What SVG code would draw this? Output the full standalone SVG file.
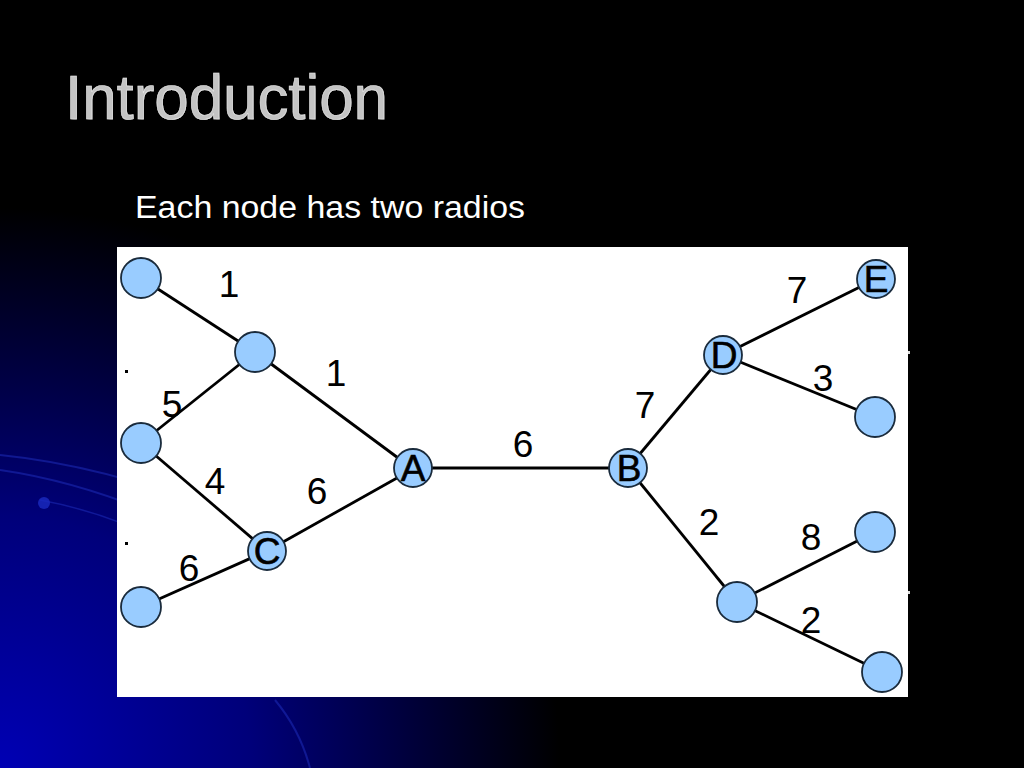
<svg xmlns="http://www.w3.org/2000/svg" width="1024" height="768" viewBox="0 0 1024 768">
<defs>
<radialGradient id="bg" cx="0" cy="768" r="560" gradientUnits="userSpaceOnUse">
<stop offset="0" stop-color="#0000b4"/>
<stop offset="0.45" stop-color="#00007a"/>
<stop offset="1" stop-color="#000000"/>
</radialGradient>
<filter id="sh" x="-5%" y="-20%" width="110%" height="140%">
<feDropShadow dx="2" dy="2" stdDeviation="1" flood-color="#000" flood-opacity="0.9"/>
</filter>
<style>
.edge{stroke:#000;stroke-width:2.8;fill:none}
.node{fill:#99ccff;stroke:#1a2b3c;stroke-width:1.8}
.nl{font-family:"Liberation Sans",Arial,sans-serif;font-size:37px;fill:#000;stroke:#000;stroke-width:0.6;text-anchor:middle}
.wl{font-family:"Liberation Sans",Arial,sans-serif;font-size:37px;fill:#000;text-anchor:middle}
.swoosh{fill:none;stroke:#2030c0;stroke-opacity:0.5}
</style>
</defs>
<rect width="1024" height="768" fill="#000"/>
<rect width="1024" height="768" fill="url(#bg)"/>
<g id="swooshes">
<path class="swoosh" stroke-width="2" d="M0 455 Q150 470 330 560"/>
<path class="swoosh" stroke-width="2" d="M0 470 Q140 490 300 590"/>
<path class="swoosh" stroke-width="1.5" d="M40 500 Q150 520 260 600"/>
<circle cx="44" cy="503" r="6" fill="#1a2ac0" opacity="0.8"/>
<path class="swoosh" stroke-width="2" d="M275 700 Q300 730 310 768"/>
</g>
<text x="65" y="119" font-family="Liberation Sans,Arial,sans-serif" font-size="63" textLength="323" lengthAdjust="spacingAndGlyphs" fill="#c4c4c4" stroke="#ececec" stroke-width="0.6" filter="url(#sh)">Introduction</text>
<text x="135" y="218" font-family="Liberation Sans,Arial,sans-serif" font-size="31" textLength="390" lengthAdjust="spacingAndGlyphs" fill="#ffffff">Each node has two radios</text>
<rect x="117" y="247" width="791" height="450" fill="#ffffff"/>
<g id="dots">
<rect x="125" y="370" width="3" height="3" fill="#000"/>
<rect x="125" y="542" width="3" height="3" fill="#000"/>
<rect x="908" y="351" width="2" height="3" fill="#ddd"/>
<rect x="908" y="591" width="2" height="3" fill="#ddd"/>
</g>
<g id="connectors">
<line class="edge" x1="141" y1="278" x2="255" y2="352"/>
<line class="edge" x1="255" y1="352" x2="413" y2="469"/>
<line class="edge" x1="255" y1="352" x2="141" y2="443"/>
<line class="edge" x1="141" y1="443" x2="267" y2="551"/>
<line class="edge" x1="141" y1="607" x2="267" y2="551"/>
<line class="edge" x1="267" y1="551" x2="413" y2="469"/>
<line class="edge" x1="413" y1="468" x2="628" y2="468"/>
<line class="edge" x1="628" y1="468" x2="723" y2="355"/>
<line class="edge" x1="723" y1="355" x2="876" y2="279"/>
<line class="edge" x1="723" y1="355" x2="875" y2="417"/>
<line class="edge" x1="628" y1="468" x2="737" y2="602"/>
<line class="edge" x1="737" y1="602" x2="875" y2="532"/>
<line class="edge" x1="737" y1="602" x2="882" y2="672"/>
</g>
<g id="labels">
<text class="wl" x="229" y="297">1</text>
<text class="wl" x="336" y="386">1</text>
<text class="wl" x="172" y="417">5</text>
<text class="wl" x="215" y="494">4</text>
<text class="wl" x="317" y="504">6</text>
<text class="wl" x="189" y="581">6</text>
<text class="wl" x="523" y="457" font-size="28">6</text>
<text class="wl" x="645" y="418">7</text>
<text class="wl" x="797" y="303">7</text>
<text class="wl" x="823" y="391">3</text>
<text class="wl" x="709" y="535">2</text>
<text class="wl" x="811" y="550">8</text>
<text class="wl" x="811" y="633">2</text>
</g>
<g id="n1"><circle class="node" cx="141" cy="278" r="20"/></g>
<g id="n2"><circle class="node" cx="255" cy="352" r="20"/></g>
<g id="n3"><circle class="node" cx="141" cy="443" r="20"/></g>
<g id="n4"><circle class="node" cx="141" cy="607" r="20"/></g>
<g id="nC"><circle class="node" cx="267" cy="551" r="19"/><text class="nl" x="267" y="564">C</text></g>
<g id="nA"><circle class="node" cx="413" cy="468" r="19"/><text class="nl" x="413" y="481">A</text></g>
<g id="nB"><circle class="node" cx="628" cy="468" r="19"/><text class="nl" x="629" y="481">B</text></g>
<g id="nD"><circle class="node" cx="723" cy="355" r="19"/><text class="nl" x="724" y="368">D</text></g>
<g id="nE"><circle class="node" cx="876" cy="279" r="19"/><text class="nl" x="876" y="292">E</text></g>
<g id="n5"><circle class="node" cx="875" cy="417" r="20"/></g>
<g id="n6"><circle class="node" cx="875" cy="532" r="20"/></g>
<g id="n7"><circle class="node" cx="737" cy="602" r="20"/></g>
<g id="n8"><circle class="node" cx="882" cy="672" r="20"/></g>
</svg>
